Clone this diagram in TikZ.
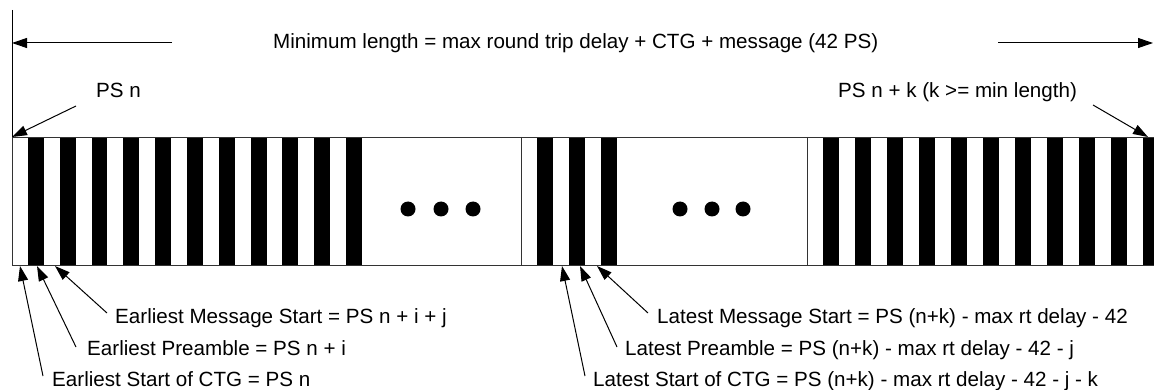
\documentclass[tikz,border=0pt]{standalone}
\usepackage{fontspec}
\setmainfont{Liberation Sans}
\usetikzlibrary{arrows.meta}
\begin{document}
\begin{tikzpicture}[x=1pt,y=-1pt,
  lbl/.style={anchor=base west,inner sep=0pt,font=\fontsize{20.6}{24}\selectfont},
  arr/.style={line width=1pt,-{Triangle[length=15pt,width=10pt]}},
  barline/.style={line width=0.8pt,draw=black!80}]
\clip (0,0) rectangle (1154,390);
% bar
\fill[white] (12,137) rectangle (1170,265);
\foreach \k in {0,...,10}{
  \fill[black] ({12+15.909*(2*\k+1)},137) rectangle ({12+15.909*(2*\k+2)},265);
}
\foreach \k in {0,1,2}{
  \fill[black] ({521+16*(2*\k+1)},137) rectangle ({521+16*(2*\k+2)},265);
}
\foreach \k in {0,...,10}{
  \fill[black] ({807+16*(2*\k+1)},137) rectangle ({807+16*(2*\k+2)},265);
}
\draw[barline] (12,137) rectangle (1170,265);
\draw[barline] (521,137) -- (521,265);
\draw[barline] (807,137) -- (807,265);
% dots
\foreach \x in {408,441,473,680,712,743}{
  \fill (\x,209) circle (7.5);
}
% left vertical line
\coordinate (vtop) at (12,10);
\coordinate (vbot) at (12,137);
\draw[line width=1pt] (vtop) -- (vbot);
% title
\node[lbl] (title) at (273,49) {Minimum length = max round trip delay + CTG + message (42 PS)};
\coordinate (tlA) at (172,43);
\coordinate (tlB) at (12,43);
\coordinate (trA) at (998,43);
\coordinate (trB) at (1153,43);
\draw[arr] (tlA) -- (tlB);
\draw[arr] (trA) -- (trB);
% PS n
\node[lbl] (psn) at (96,98) {PS n};
\coordinate (psnT) at (76,106);
\coordinate (psnH) at (12,137);
\draw[arr] (psnT) -- (psnH);
\node[lbl] (psnk) at (838,98) {PS n + k (k >= min length)};
\coordinate (psnkT) at (1093,105);
\coordinate (psnkH) at (1148,137);
\draw[arr] (psnkT) -- (psnkH);
% earliest labels
\node[lbl] (em) at (115,323) {Earliest Message Start = PS n + i + j};
\node[lbl] (ep) at (87,355) {Earliest Preamble = PS n + i};
\node[lbl] (es) at (52,386) {Earliest Start of CTG = PS n};
\coordinate (emT) at (107,313); \coordinate (emH) at (55,266);
\coordinate (epT) at (76,347);  \coordinate (epH) at (37,266);
\coordinate (esT) at (43,376);  \coordinate (esH) at (20,266);
\draw[arr] (emT) -- (emH);
\draw[arr] (epT) -- (epH);
\draw[arr] (esT) -- (esH);
% latest labels
\node[lbl] (lm) at (657,323) {Latest Message Start = PS (n+k) - max rt delay - 42};
\node[lbl] (lp) at (625,355) {Latest Preamble = PS (n+k) - max rt delay - 42 - j};
\node[lbl] (ls) at (593,386) {Latest Start of CTG = PS (n+k) - max rt delay - 42 - j - k};
\coordinate (lmT) at (648,313); \coordinate (lmH) at (597,266);
\coordinate (lpT) at (617,347); \coordinate (lpH) at (580,266);
\coordinate (lsT) at (585,376); \coordinate (lsH) at (562,266);
\draw[arr] (lmT) -- (lmH);
\draw[arr] (lpT) -- (lpH);
\draw[arr] (lsT) -- (lsH);
\end{tikzpicture}
\end{document}
